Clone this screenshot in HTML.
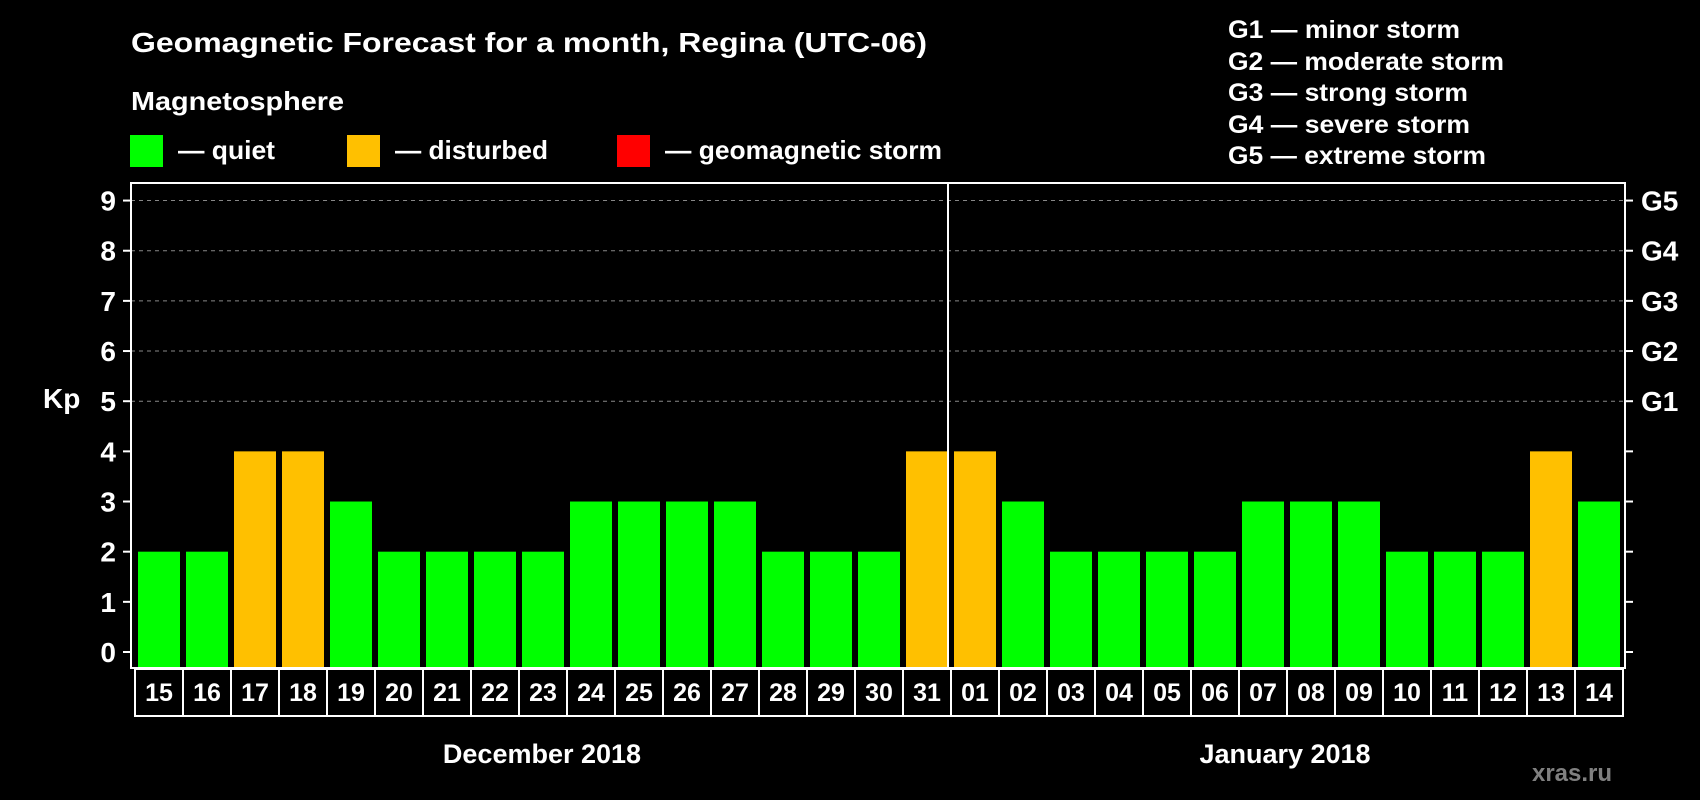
<!DOCTYPE html>
<html><head><meta charset="utf-8"><style>
html,body{margin:0;padding:0;background:#000;}
svg{display:block;font-family:"Liberation Sans",Arial,sans-serif;font-weight:bold;}
</style></head><body>
<svg id="chart" width="1700" height="800" viewBox="0 0 1700 800" xmlns="http://www.w3.org/2000/svg">
<rect width="1700" height="800" fill="#000"/>
<text x="131" y="52" fill="#fff" font-size="28" textLength="796" lengthAdjust="spacingAndGlyphs">Geomagnetic Forecast for a month, Regina (UTC-06)</text>
<text x="131" y="110" fill="#fff" font-size="26" textLength="213" lengthAdjust="spacingAndGlyphs">Magnetosphere</text>
<rect x="130" y="135" width="33" height="32" fill="#00ff00"/>
<text x="178" y="159" fill="#fff" font-size="26" textLength="97" lengthAdjust="spacingAndGlyphs">— quiet</text>
<rect x="347" y="135" width="33" height="32" fill="#ffc000"/>
<text x="395" y="159" fill="#fff" font-size="26" textLength="153" lengthAdjust="spacingAndGlyphs">— disturbed</text>
<rect x="617" y="135" width="33" height="32" fill="#ff0000"/>
<text x="665" y="159" fill="#fff" font-size="26" textLength="277" lengthAdjust="spacingAndGlyphs">— geomagnetic storm</text>
<g fill="#fff" font-size="25">
<text x="1228" y="38" textLength="232" lengthAdjust="spacingAndGlyphs">G1 — minor storm</text>
<text x="1228" y="70" textLength="276" lengthAdjust="spacingAndGlyphs">G2 — moderate storm</text>
<text x="1228" y="101" textLength="240" lengthAdjust="spacingAndGlyphs">G3 — strong storm</text>
<text x="1228" y="133" textLength="242" lengthAdjust="spacingAndGlyphs">G4 — severe storm</text>
<text x="1228" y="164" textLength="258" lengthAdjust="spacingAndGlyphs">G5 — extreme storm</text>
</g>
<text x="43" y="408" fill="#fff" font-size="28">Kp</text>
<g id="grid"></g><g id="bars"></g><g id="axes"></g>
<text x="542" y="763" fill="#fff" font-size="27" text-anchor="middle">December 2018</text>
<text x="1285" y="763" fill="#fff" font-size="27" text-anchor="middle">January 2018</text>
<text x="1572" y="781" fill="#808080" font-size="24" text-anchor="middle">xras.ru</text>
</svg>
<script>
const days = ["15","16","17","18","19","20","21","22","23","24","25","26","27","28","29","30","31","01","02","03","04","05","06","07","08","09","10","11","12","13","14"];
const kp = [2,2,4,4,3,2,2,2,2,3,3,3,3,2,2,2,4,4,3,2,2,2,2,3,3,3,2,2,2,4,3];
const yTicks = [0,1,2,3,4,5,6,7,8,9];
const gLabels = ["G1","G2","G3","G4","G5"];
const NS="http://www.w3.org/2000/svg";
const L=131,R=1625,T=183,B=668,y0=652,unit=50.16,x0=135,step=48;
const y=v=>y0-v*unit;
const xs=i=>x0+i*step;
function mk(tag,attrs,parent){const e=document.createElementNS(NS,tag);for(const k in attrs)e.setAttribute(k,attrs[k]);parent.appendChild(e);return e;}
const grid=document.getElementById('grid'),bars=document.getElementById('bars'),axes=document.getElementById('axes');
yTicks.forEach(v=>{
  if(v>=5){const g=mk('line',{x1:L,x2:R,y1:y(v),y2:y(v),stroke:'#888','stroke-dasharray':'4,4','stroke-width':1},grid);
  
  }
  const t1=mk('line',{x1:L-8,x2:L,y1:y(v),y2:y(v),stroke:'#fff','stroke-width':2},axes);
  
  
  const t2=mk('line',{x1:R,x2:R+8,y1:y(v),y2:y(v),stroke:'#fff','stroke-width':2},axes);
  
  
  const tx=mk('text',{x:116,y:y(v)+10,fill:'#fff','font-size':28,'text-anchor':'end'},axes);
  tx.textContent=v;
  
  
});
gLabels.forEach((g,i)=>{
  const tx=mk('text',{x:1641,y:y(5+i)+10,fill:'#fff','font-size':28},axes);
  tx.textContent=g;
  
  
});
kp.forEach((v,i)=>{
  const c=v>=5?'#ff0000':(v>=4?'#ffc000':'#00ff00');
  const r=mk('rect',{x:xs(i)+3,y:y(v),width:42,height:B-1-y(v),fill:c},bars);
  
  
  const cell=mk('rect',{x:xs(i),y:669,width:step,height:47,fill:'none',stroke:'#fff','stroke-width':2},axes);
  
  
  const tx=mk('text',{x:xs(i)+step/2,y:701,fill:'#fff','font-size':25,'text-anchor':'middle'},axes);
  tx.textContent=days[i];
  
  
});
const frame=mk('rect',{x:L,y:T,width:R-L,height:B-T,fill:'none',stroke:'#fff','stroke-width':2},axes);


const div=mk('line',{x1:xs(17)-3,x2:xs(17)-3,y1:T,y2:B,stroke:'#fff','stroke-width':2},axes);


</script>
</body></html>
